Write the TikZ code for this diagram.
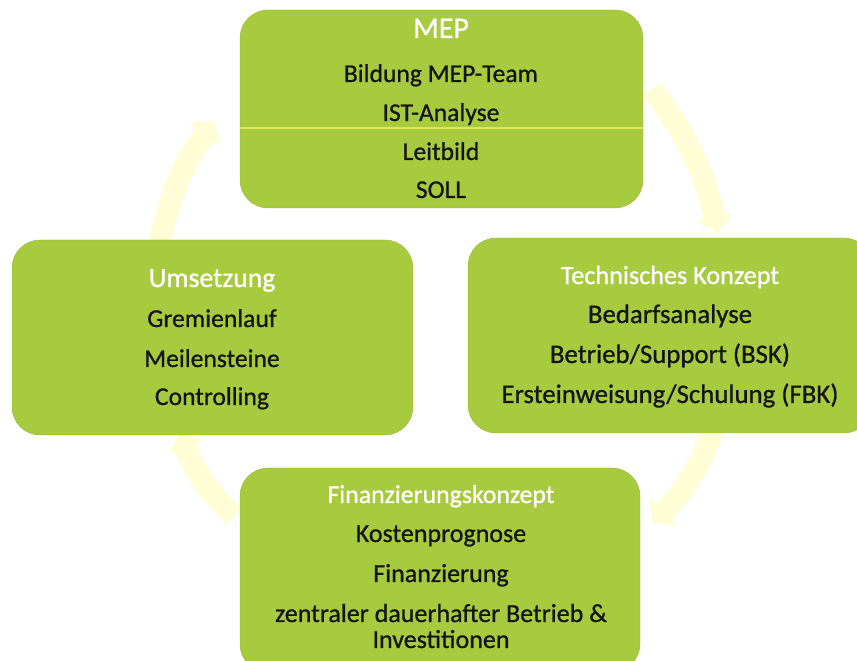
\documentclass[tikz,border=0pt]{standalone}
\usepackage{fontspec}
\setmainfont{Carlito}[FakeBold=0.8]
\usetikzlibrary{arrows.meta}
\definecolor{boxgreen}{RGB}{168,202,62}
\definecolor{ringyellow}{RGB}{255,253,214}
\definecolor{ruleyellow}{RGB}{226,228,84}
\tikzset{
    phase/.style={fill=boxgreen, draw=boxgreen!92!black, line width=.4pt,
        rounded corners=28pt, inner sep=0pt},
    phasetitle/.style={text=white, anchor=base, inner sep=0pt,
        font=\fontsize{#1}{30}\selectfont},
    phaseitem/.style={text=black!92, anchor=base, inner sep=0pt,
        font=\fontsize{#1}{30}\selectfont},
    phaseitem/.default=25.6,
    cycarrow/.style={ringyellow, line width=22pt,
        -{Triangle[width=38pt,length=16pt]}, bend left=12},
}
\begin{document}
\begin{tikzpicture}[x=1pt,y=1pt]
        \useasboundingbox (0,0) rectangle (857,661);
        % ring arrows behind the boxes
        \coordinate (u1) at (158,410);
        \coordinate (m1) at (214,540);
        \coordinate (m2) at (652,572);
        \coordinate (t1) at (718,428);
        \coordinate (t2) at (714,232);
        \coordinate (f1) at (652,138);
        \coordinate (f2) at (234,144);
        \coordinate (u2) at (180,228);
        \draw [cycarrow] (u1) to (m1);
        \draw [cycarrow] (m2) to (t1);
        \draw [cycarrow] (t2) to (f1);
        \draw [cycarrow] (f2) to (u2);
        % boxes
        \node [phase, minimum width=403pt, minimum height=198pt] (mep) at (441.5,552) {};
        \node [phase, minimum width=401pt, minimum height=195pt] (ums) at (212.5,323.5) {};
        \node [phase, minimum width=404pt, minimum height=195pt] (tech) at (670,325.5) {};
        \node [phase, minimum width=400pt, minimum height=204pt] (fin) at (440,91) {};
        \draw [ruleyellow, line width=1.2pt] (mep.west |- 0,533) -- (mep.east |- 0,533);
        % MEP
        \node [phasetitle=30] (mept) at (441,623) {MEP};
        \foreach \t/\y in {Bildung MEP-Team/579, IST-Analyse/540, Leitbild/501, SOLL/463}{
            \node [phaseitem] at (441,\y) {\t};
        }
        % Umsetzung
        \node [phasetitle=27.7] (umst) at (212,374) {Umsetzung};
        \foreach \t/\y in {Gremienlauf/334, Meilensteine/294, Controlling/256}{
            \node [phaseitem] at (212,\y) {\t};
        }
        % Technisches Konzept
        \node [phasetitle=26.2] (techt) at (670,377) {Technisches Konzept};
        \foreach \t/\y in {Bedarfsanalyse/338, {Betrieb/Support (BSK)}/298, {Ersteinweisung/Schulung (FBK)}/258}{
            \node [phaseitem=26.8] at (670,\y) {\t};
        }
        % Finanzierungskonzept
        \node [phasetitle=25.8] (fint) at (441,158) {Finanzierungskonzept};
        \foreach \t/\y in {Kostenprognose/119, Finanzierung/79, zentraler dauerhafter Betrieb \&/39, Investitionen/13}{
            \node [phaseitem=26] at (441,\y) {\t};
        }
\end{tikzpicture}
\end{document}
